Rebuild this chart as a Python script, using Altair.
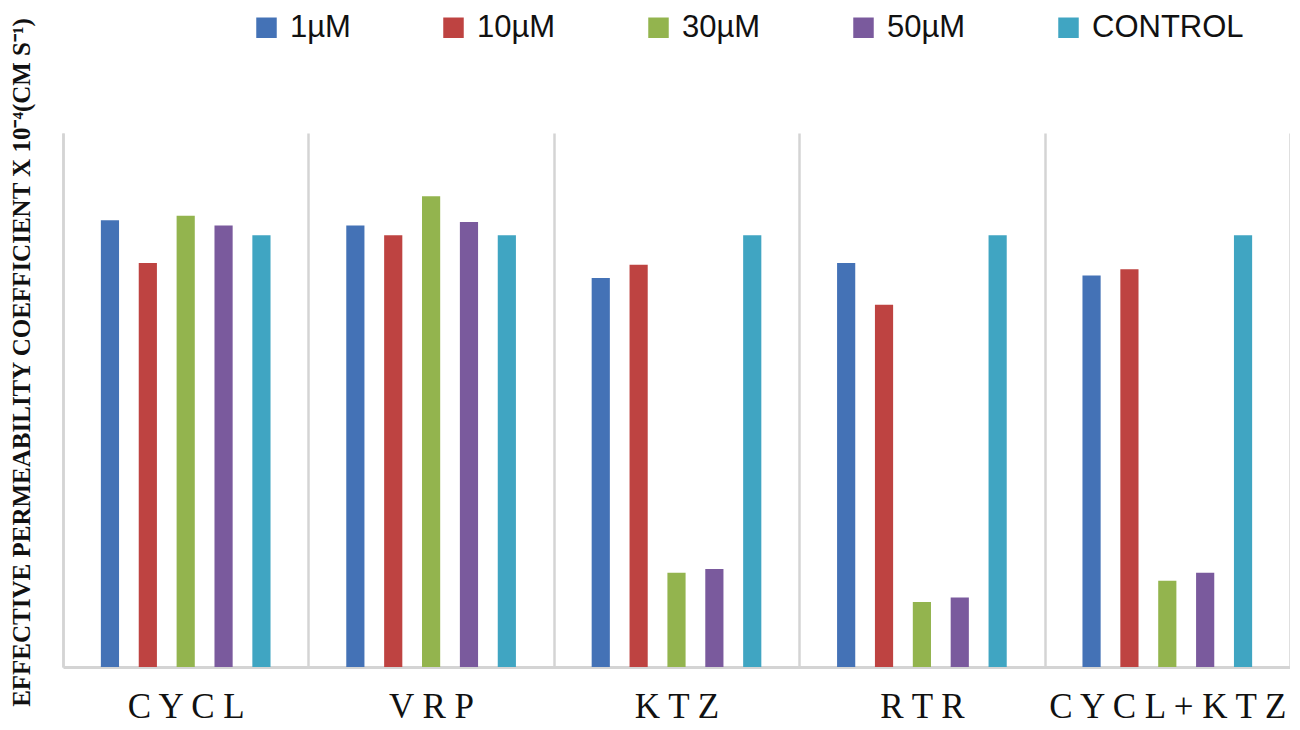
import altair as alt
import pandas as pd

categories = ["CYCL", "VRP", "KTZ", "RTR", "CYCL+KTZ"]
series = ["1µM", "10µM", "30µM", "50µM", "CONTROL"]
colors = ["#4472B6", "#BE4341", "#93B44E", "#7A5A9D", "#40A5C2"]

v_1uM = [5.02, 4.96, 4.37, 4.54, 4.40]
v_10uM = [4.54, 4.85, 4.52, 4.07, 4.47]
v_30uM = [5.07, 5.29, 1.06, 0.73, 0.97]
v_50uM = [4.96, 5.00, 1.10, 0.78, 1.06]
v_control = [4.85, 4.85, 4.85, 4.85, 4.85]

rows = []
for s, vals in zip(series, [v_1uM, v_10uM, v_30uM, v_50uM, v_control]):
    for c, v in zip(categories, vals):
        rows.append({"drug": c, "conc": s, "value": v})
df = pd.DataFrame(rows)

y_title = "EFFECTIVE PERMEABILITY COEFFICIENT X 10⁻⁴(CM S⁻¹)"

chart = alt.Chart(df).mark_bar().encode(
    x=alt.X(
        "drug:N",
        sort=categories,
        scale=alt.Scale(paddingInner=0, paddingOuter=0),
        axis=alt.Axis(
            title=None,
            grid=True,
            tickBand="extent",
            gridColor="#d4d4d4",
            gridWidth=2.5,
            domainColor="#d4d4d4",
            domainWidth=3,
            ticks=False,
            labelAngle=0,
            labelFont="Liberation Serif",
            labelFontSize=35,
            labelColor="#111111",
            labelPadding=22,
            labelLimit=0,
            labelExpr="join(split(datum.label, ''), ' ')",
        ),
    ),
    xOffset=alt.XOffset(
        "conc:N",
        sort=series,
        scale=alt.Scale(paddingInner=0.52, paddingOuter=1),
    ),
    y=alt.Y(
        "value:Q",
        scale=alt.Scale(domain=[0, 6], nice=False),
        axis=alt.Axis(
            title=y_title,
            labels=False,
            ticks=False,
            grid=False,
            domainColor="#d4d4d4",
            domainWidth=2.5,
            titleFont="Liberation Serif",
            titleFontWeight="bold",
            titleFontSize=25,
            titleColor="#111111",
            titleX=-29,
            titleY=229,
            titleLimit=0,
        ),
    ),
    color=alt.Color(
        "conc:N",
        sort=series,
        scale=alt.Scale(domain=series, range=colors),
        legend=alt.Legend(
            title=None,
            orient="none",
            direction="horizontal",
            legendX=188,
            legendY=-121,
            columns=5,
            columnPadding=87,
            symbolType="square",
            symbolSize=420,
            symbolStrokeWidth=0,
            labelFont="Liberation Sans",
            labelFontSize=31,
            labelColor="#111111",
            labelOffset=8,
            labelLimit=0,
        ),
    ),
).properties(
    width=1227,
    height=534,
    autosize=alt.AutoSizeParams(type="none"),
    padding={"left": 55, "top": 125, "right": 0, "bottom": 57},
).configure_view(stroke=None)

chart.save("out.html", embed_options={"renderer": "svg", "actions": False})
